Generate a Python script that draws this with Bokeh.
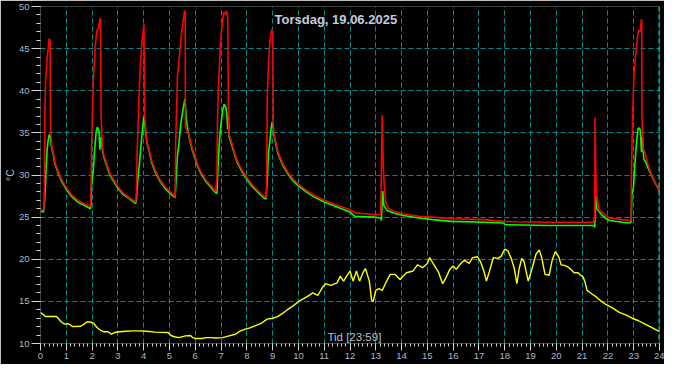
import math
from bokeh.plotting import figure
from bokeh.models import (ColumnDataSource, SingleIntervalTicker, FixedTicker, Label, Span, Range1d)
from bokeh.embed import file_html
from bokeh.resources import INLINE

# ---------------- data (hours, °C) ----------------
red_t = [0.00, 0.10, 0.13, 0.15, 0.17, 0.20, 0.23, 0.26, 0.30, 0.34, 0.37, 0.39, 0.44, 0.50, 0.56, 0.69, 0.81,
         1.00, 1.19, 1.44, 1.69, 1.94,
         1.96, 1.98, 2.04, 2.08, 2.12, 2.19, 2.25, 2.29, 2.32, 2.35, 2.40, 2.44, 2.56, 2.69, 2.94, 3.19, 3.44, 3.69,
         3.72, 3.75, 3.79, 3.84, 3.89, 3.94, 3.98, 4.01, 4.04, 4.13, 4.19, 4.31, 4.44, 4.62, 4.81, 5.06, 5.19,
         5.22, 5.24, 5.29, 5.31, 5.37, 5.44, 5.48, 5.54, 5.59, 5.61, 5.62, 5.69, 5.75, 5.87, 6.00, 6.12, 6.25,
         6.44, 6.62, 6.79,
         6.84, 6.86, 6.89, 6.94, 6.97, 7.01, 7.06, 7.10, 7.16, 7.22, 7.26, 7.29, 7.31, 7.37, 7.50, 7.62, 7.81,
         8.00, 8.19, 8.44, 8.69,
         8.75, 8.77, 8.79, 8.84, 8.89, 8.94, 8.98, 9.01, 9.02, 9.06,
         9.20, 9.40, 9.60, 9.80, 10.00, 10.30, 10.60, 11.00, 11.50, 12.00, 12.19, 12.60, 12.94, 13.19,
         13.21, 13.25, 13.29, 13.34, 13.40, 13.50, 13.69, 14.06, 14.69, 15.19, 15.94, 17.19, 17.94, 18.44,
         19.69, 21.44, 21.49, 21.50, 21.53, 21.56, 21.66, 21.81, 21.94, 22.06, 22.56, 22.87, 22.90,
         22.91, 22.96, 23.01, 23.06, 23.11, 23.16, 23.21, 23.25, 23.30, 23.31, 23.32, 23.37, 23.44, 23.56,
         23.69, 23.87, 24.00]
red_v = [25.9, 25.8, 26.0, 28.1, 37.5, 41.3, 42.6, 43.9, 45.1, 46.2, 46.0, 35.4, 33.3, 32.6, 31.5, 30.4, 29.5,
         28.5, 27.7, 27.0, 26.6, 26.3,
         28.5, 33.1, 40.7, 43.0, 45.3, 47.2, 47.4, 48.3, 48.6, 37.1, 33.5, 32.5, 31.4, 30.2, 28.9, 27.9, 27.3, 26.8,
         28.0, 33.1, 36.5, 41.0, 44.0, 46.0, 47.0, 47.9, 36.9, 33.8, 33.3, 31.7, 30.6, 29.5, 28.7, 27.9, 27.6,
         27.4, 33.8, 39.2, 41.8, 43.6, 46.0, 47.2, 48.5, 49.5, 49.4, 35.7, 35.2, 34.8, 33.3, 32.1, 31.0, 30.2,
         29.3, 28.7, 28.1,
         29.6, 35.7, 39.9, 43.0, 45.3, 46.8, 48.3, 49.3, 49.1, 49.5, 48.3, 36.1, 34.8, 34.3, 32.9, 31.7, 30.6,
         29.7, 28.9, 28.1, 27.4,
         27.4, 30.0, 39.2, 43.0, 45.6, 46.8, 47.3, 47.0, 36.0, 34.8,
         32.8, 31.3, 30.3, 29.5, 28.9, 28.2, 27.6, 27.0, 26.4, 25.9, 25.5, 25.4, 25.3, 25.3,
         29.5, 37.1, 31.0, 28.1, 26.6, 26.0, 25.7, 25.4, 25.1, 25.0, 24.8, 24.7, 24.5, 24.45,
         24.4, 24.4, 25.0, 36.8, 30.0, 27.7, 25.8, 25.5, 25.1, 24.9, 24.7, 24.6, 24.6,
         30.0, 37.3, 41.8, 43.8, 45.3, 46.8, 47.2, 47.0, 48.5, 48.2, 36.9, 33.1, 32.6, 31.2,
         30.0, 28.9, 28.1]

green_t = [0.00, 0.12, 0.15, 0.19, 0.22, 0.26, 0.30, 0.34, 0.37, 0.40, 0.44, 0.50, 0.56, 0.69, 0.81, 1.00, 1.19,
           1.44, 1.69, 1.94,
           1.96, 1.97, 2.04, 2.10, 2.16, 2.21, 2.27, 2.30, 2.35, 2.40, 2.44, 2.56, 2.69, 2.94, 3.19, 3.44, 3.69,
           3.72, 3.76, 3.84, 3.91, 3.96, 4.00, 4.03, 4.07, 4.13, 4.19, 4.31, 4.44, 4.62, 4.81, 5.06, 5.19,
           5.22, 5.25, 5.31, 5.37, 5.44, 5.50, 5.56, 5.60, 5.66, 5.71, 5.75, 5.87, 6.00, 6.12, 6.25, 6.44, 6.62,
           6.79,
           6.84, 6.88, 6.94, 7.00, 7.06, 7.12, 7.19, 7.22, 7.26, 7.29, 7.31, 7.37, 7.50, 7.62, 7.81, 8.00, 8.19,
           8.44, 8.69,
           8.75, 8.79, 8.84, 8.89, 8.94, 8.98, 9.01, 9.06,
           9.20, 9.40, 9.60, 9.80, 10.00, 10.30, 10.60, 11.00, 11.50, 12.00, 12.19, 12.94, 13.19,
           13.22, 13.24, 13.27, 13.31, 13.44, 13.69, 14.06, 14.69, 15.19, 15.94, 17.19, 17.94, 18.01,
           19.69, 21.44, 21.49, 21.52, 21.56, 21.75, 21.94, 22.06, 22.56, 22.87, 22.90,
           22.93, 22.99, 23.06, 23.12, 23.17, 23.21, 23.26, 23.30, 23.34, 23.39, 23.47, 23.59, 23.79, 24.00]
green_v = [25.7, 25.6, 26.5, 28.5, 31.0, 33.1, 34.2, 34.8, 34.7, 34.0, 33.1, 32.4, 31.3, 30.2, 29.3, 28.3, 27.5,
           26.8, 26.4, 26.0,
           26.5, 28.5, 30.3, 33.0, 35.2, 35.7, 35.2, 33.0, 34.5, 33.0, 32.3, 31.2, 30.0, 28.7, 27.7, 27.2, 26.6,
           27.0, 29.0, 31.5, 34.0, 35.5, 36.9, 36.5, 35.2, 33.8, 33.1, 31.5, 30.4, 29.3, 28.5, 27.7, 27.4,
           27.3, 29.0, 32.3, 33.8, 36.1, 37.3, 38.4, 39.0, 36.5, 35.4, 34.6, 33.1, 31.9, 30.8, 30.0, 29.1, 28.5,
           27.9,
           27.8, 30.8, 34.2, 36.1, 37.6, 38.4, 38.0, 37.3, 35.4, 36.9, 34.6, 34.0, 32.7, 31.5, 30.4, 29.5, 28.7,
           27.9, 27.2,
           27.2, 29.3, 32.7, 33.8, 35.5, 36.3, 35.9, 34.6,
           32.6, 31.1, 30.1, 29.3, 28.7, 28.0, 27.4, 26.8, 26.2, 25.6, 25.1, 25.0, 24.9,
           24.6, 26.5, 28.1, 26.4, 25.8, 25.5, 25.2, 24.9, 24.7, 24.5, 24.4, 24.3, 24.1,
           24.0, 24.0, 23.8, 27.5, 26.0, 25.3, 24.8, 24.6, 24.4, 24.3, 24.5,
           27.7, 28.5, 31.9, 34.2, 35.5, 35.6, 35.3, 32.7, 34.5, 31.9, 31.5, 30.6, 29.3, 28.1]

yellow_t = [0.00, 0.04, 0.12, 0.19, 0.62, 0.71, 0.81, 0.94, 1.06, 1.16, 1.25, 1.56, 1.69, 1.79, 1.94, 2.06, 2.19,
            2.31, 2.44, 2.62, 2.75, 2.87, 3.06, 3.31, 3.56, 3.81, 4.12, 4.44, 4.94, 5.06, 5.19, 5.37, 5.62,
            5.81, 5.90, 6.00, 6.25, 6.44, 6.62, 6.81, 7.06, 7.31, 7.56, 7.75, 7.94, 8.12, 8.31, 8.56, 8.79,
            9.00, 9.19, 9.40, 9.56, 9.81, 10.06, 10.31, 10.56, 10.75, 10.94, 11.06, 11.25, 11.50, 11.62, 11.75,
            11.87, 12.00, 12.12, 12.25, 12.37, 12.50, 12.60, 12.75, 12.84, 12.90, 13.00, 13.12, 13.25, 13.37,
            13.56, 13.75, 13.94, 14.19, 14.44, 14.62, 14.81, 15.00, 15.09, 15.25, 15.44, 15.59, 15.69, 15.87,
            16.00, 16.12, 16.25, 16.44, 16.62, 16.75, 16.94, 17.06, 17.19, 17.29, 17.41, 17.56, 17.75, 17.87,
            18.00, 18.12, 18.25, 18.37, 18.47, 18.56, 18.66, 18.75, 18.91, 19.06, 19.21, 19.34, 19.44, 19.56,
            19.72, 19.84, 19.96, 20.09, 20.19, 20.29, 20.44, 20.56, 20.69, 20.84, 20.94, 21.04, 21.12, 21.19,
            21.37, 21.56, 21.75, 21.94, 22.19, 22.44, 22.69, 22.94, 23.19, 23.44, 23.69, 23.94, 24.00]
yellow_v = [13.7, 13.6, 13.4, 13.2, 13.2, 12.9, 12.55, 12.3, 12.35, 12.2, 12.0, 12.05, 12.3, 12.55, 12.55, 12.4,
            11.9, 11.6, 11.4, 11.4, 11.1, 11.3, 11.4, 11.45, 11.5, 11.5, 11.45, 11.35, 11.3, 10.95, 10.8, 10.7,
            10.9, 10.95, 10.7, 10.6, 10.6, 10.7, 10.7, 10.65, 10.7, 10.9, 11.1, 11.5, 11.7, 11.85, 12.1, 12.4,
            12.9, 13.0, 13.2, 13.6, 14.0, 14.5, 15.1, 15.5, 16.0, 15.7, 16.7, 17.1, 16.9, 17.2, 18.0, 17.4,
            18.0, 18.6, 17.4, 18.6, 17.4, 18.4, 18.9, 17.4, 15.1, 15.0, 16.3, 16.5, 16.3, 17.1,
            18.2, 18.2, 17.6, 18.4, 18.6, 19.35, 19.0, 19.5, 20.2, 19.35, 18.4, 17.1, 17.6, 18.8,
            19.2, 18.8, 19.35, 19.9, 19.5, 20.2, 20.3, 19.7, 18.6, 17.4, 18.6, 20.2, 20.1, 20.4,
            21.2, 21.0, 20.1, 18.9, 17.1, 18.9, 20.1, 19.7, 17.4, 18.9, 20.6, 21.1, 20.1, 18.2,
            18.1, 19.9, 20.9, 20.3, 19.3, 19.3, 19.1, 18.8, 18.4, 18.4, 18.1, 17.9, 17.2, 16.3,
            15.9, 15.5, 15.0, 14.6, 14.2, 13.7, 13.4, 13.0, 12.7, 12.3, 11.9, 11.5, 11.4]

title_text = "Torsdag, 19.06.2025"
xlabel_text = "Tid [23:59]"
ylabel_text = "°C"

# ---------------- figure ----------------
TICK_COL = "#A9B9CD"
GRID_COL = "#008C8C"

p = figure(width=664, height=364, output_backend="svg", toolbar_location=None,
           x_range=Range1d(0, 24), y_range=Range1d(10, 50),
           background_fill_color="black", border_fill_color="black",
           min_border_left=34, min_border_right=5, min_border_top=6, min_border_bottom=21)
p.outline_line_color = None

for ax in (p.xaxis[0], p.yaxis[0]):
    ax.axis_line_color = None
    ax.major_tick_line_color = "#D8D8D8"
    ax.minor_tick_line_color = "#D8D8D8"
    ax.major_tick_in = 0
    ax.minor_tick_in = 0
    ax.major_label_text_color = TICK_COL
    ax.major_label_text_font = "Liberation Sans"
    ax.major_label_text_font_size = "9.5px"

p.xaxis.ticker = SingleIntervalTicker(interval=1, num_minor_ticks=6)
p.xaxis.major_tick_out = 7
p.xaxis.minor_tick_out = 3
p.xaxis.major_label_standoff = 2

p.yaxis.ticker = SingleIntervalTicker(interval=5, num_minor_ticks=5)
p.yaxis.major_tick_out = 9
p.yaxis.minor_tick_out = 4
p.yaxis.major_label_standoff = 2
p.yaxis.axis_label = ylabel_text
p.yaxis.axis_label_standoff = 0
p.yaxis.axis_label_text_color = "#B4C2D4"
p.yaxis.axis_label_text_font = "Liberation Sans"
p.yaxis.axis_label_text_font_style = "normal"
p.yaxis.axis_label_text_font_size = "10.5px"

p.xgrid.ticker = FixedTicker(ticks=list(range(1, 24)))
p.ygrid.ticker = FixedTicker(ticks=[15, 20, 25, 30, 35, 40, 45])
for g in (p.xgrid[0], p.ygrid[0]):
    g.grid_line_color = GRID_COL
    g.grid_line_dash = "5 3"
    g.grid_line_width = 1

p.add_layout(Span(location=24, dimension="height", line_color="#00E8F0",
                  line_dash="5 3", line_width=2))

src_y = ColumnDataSource(dict(t=yellow_t, v=yellow_v))
src_g = ColumnDataSource(dict(t=green_t, v=green_v))
src_r = ColumnDataSource(dict(t=red_t, v=red_v))
p.line("t", "v", source=src_y, line_color="#FFFF00", line_width=1.4)
p.line("t", "v", source=src_g, line_color="#00FF00", line_width=1.6)
p.line("t", "v", source=src_r, line_color="#FF0000", line_width=1.6)

p.add_layout(Label(x=11.45, y=48.5, text=title_text, text_align="center", text_baseline="middle",
                   text_color="#C4CCDC", text_font="Liberation Sans", text_font_style="bold",
                   text_font_size="13px"))
p.add_layout(Label(x=12.17, y=10.75, text=xlabel_text, text_align="center", text_baseline="middle",
                   text_color="#B4C2D4", text_font="Liberation Sans", text_font_size="11.5px"))

open("out.html", "w").write(file_html(p, INLINE))
